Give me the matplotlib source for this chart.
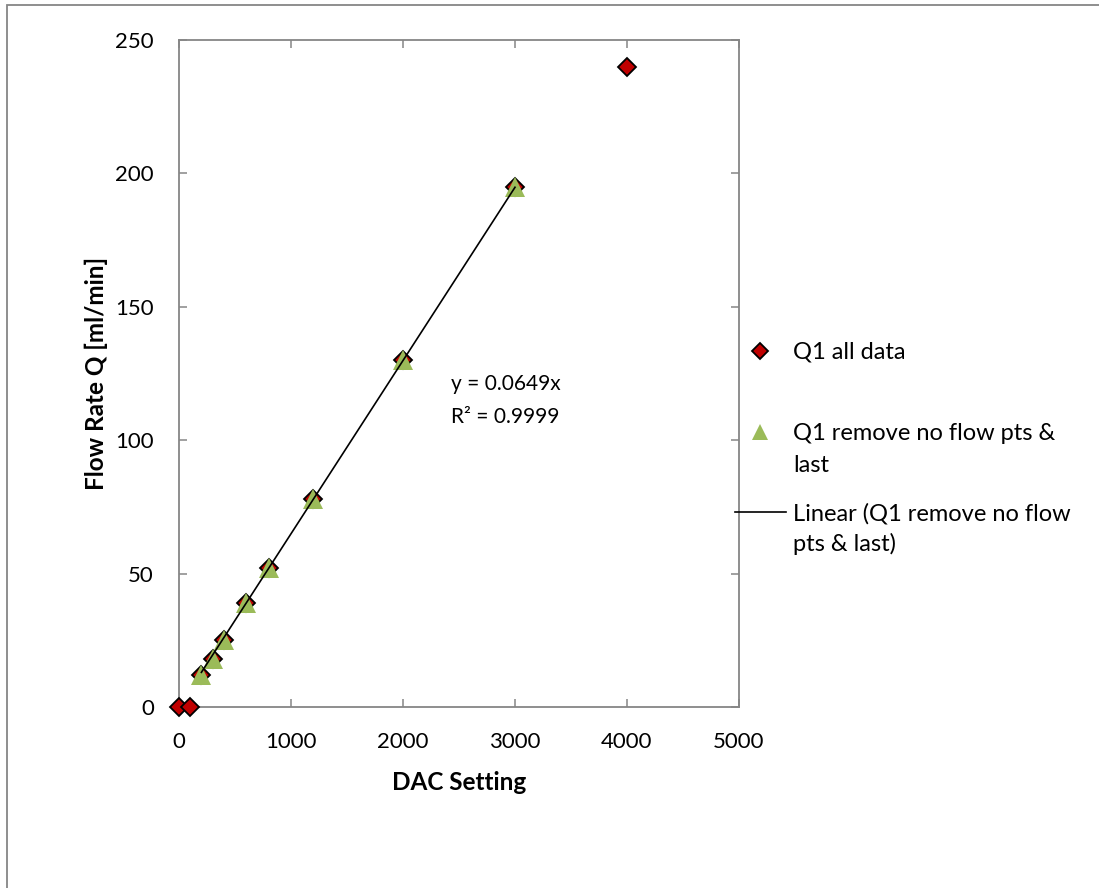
import matplotlib.pyplot as plt
from matplotlib.lines import Line2D
from matplotlib.patches import Rectangle
import numpy as np

plt.rcParams['font.family'] = ['Lato', 'DejaVu Sans']

# Q1 all data
dac_all = [0, 100, 200, 300, 400, 600, 800, 1200, 2000, 3000, 4000]
flow_all = [0, 0, 12, 18, 25, 39, 52, 78, 130, 195, 240]

# Q1 remove no flow pts & last
dac_fit = [200, 300, 400, 600, 800, 1200, 2000, 3000]
flow_fit = [12, 18, 25, 39, 52, 78, 130, 195]

x_ticks = [0, 1000, 2000, 3000, 4000, 5000]
y_ticks = [0, 50, 100, 150, 200, 250]

red = '#C00000'
green = '#9BBB59'
grey = '#868686'
fs_tick = 16
fs_eq = 15
fs_leg = 17
fs_lab = 17.5

fig = plt.figure(figsize=(10.99, 8.88), dpi=100)
ax = fig.add_axes([179 / 1099, 1 - 707 / 888, 560 / 1099, 667 / 888])

ax.plot(dac_all, flow_all, 'D', ms=9.5, mfc=red, mec='black', mew=1.3, zorder=3,
        clip_on=False)
ax.plot(dac_fit, flow_fit, '^', ms=14, mfc=green, mec=green, mew=0, zorder=4,
        clip_on=False)

# linear trendline through origin
xf = np.array(dac_fit, dtype=float)
yf = np.array(flow_fit, dtype=float)
slope = (xf * yf).sum() / (xf * xf).sum()
xl = np.array([xf.min(), xf.max()])
ax.plot(xl, slope * xl, color='black', lw=1.2, zorder=5)

ax.text(2430, 118.8, 'y = 0.0649x', fontsize=fs_eq, va='baseline')
ax.text(2430, 106.4, 'R² = 0.9999', fontsize=fs_eq, va='baseline')

ax.set_xlim(0, 5000)
ax.set_ylim(0, 250)
ax.set_xticks(x_ticks)
ax.set_yticks(y_ticks)
ax.tick_params(direction='in', length=6, width=1.1, color=grey, labelsize=fs_tick,
               top=True, right=True)
ax.tick_params(axis='y', pad=18)
ax.tick_params(axis='x', pad=18)
for s in ax.spines.values():
    s.set_color(grey)
    s.set_linewidth(1.3)

ax.set_xlabel('DAC Setting', fontsize=fs_lab, fontweight='bold')
ax.set_ylabel('Flow Rate Q [ml/min]', fontsize=fs_lab, fontweight='bold')
ax.xaxis.set_label_coords(0.5, -0.096)
ax.yaxis.set_label_coords(-0.127, 0.5)

# legend (drawn by hand to match the spacing)
W, H = 1099, 888
def fx(px):
    return px / W
def fy(py):
    return 1 - py / H

fig.add_artist(Line2D([fx(760)], [fy(351)], marker='D', ms=8, mfc=red, mec='black',
                      mew=1.3, ls='none'))
fig.add_artist(Line2D([fx(760)], [fy(432)], marker='^', ms=12, mfc=green, mec=green,
                      mew=0, ls='none'))
fig.add_artist(Line2D([fx(735), fx(786)], [fy(512), fy(512)], color='black', lw=1.2))
legend_lines = [
    ('Q1 all data', 358),
    ('Q1 remove no flow pts &', 440),
    ('last', 472),
    ('Linear (Q1 remove no flow', 520),
    ('pts & last)', 551),
]
for txt, yb in legend_lines:
    fig.text(fx(793), fy(yb), txt, fontsize=fs_leg, va='baseline', ha='left')

# chart area border
fig.add_artist(Rectangle((7 / W, -0.1), 1.2, fy(5) + 0.1, transform=fig.transFigure,
                         fill=False, edgecolor=grey, lw=1.3))

fig.savefig('out.png', dpi=100)
